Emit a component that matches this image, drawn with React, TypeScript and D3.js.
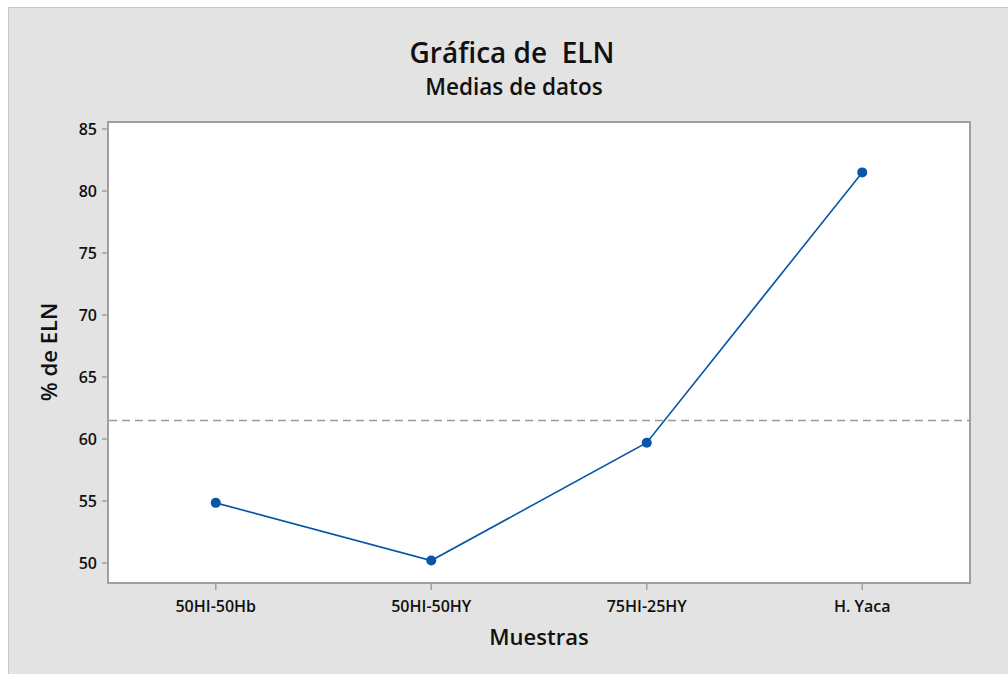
import React from 'react';
import * as d3 from 'd3';

const muestras = ['50HI-50Hb', '50HI-50HY', '75HI-25HY', 'H. Yaca'];
const medias = [54.85, 50.2, 59.7, 81.5];
const yTicks = [50, 55, 60, 65, 70, 75, 80, 85];
const mediaGeneral = 61.5;

const W = 1008;
const H = 674;
const plot = { left: 108, right: 970, top: 122, bottom: 583 };
const font = '"Open Sans", "Noto Sans", sans-serif';
const azul = '#0756a8';

export default function App() {
  const x = d3.scalePoint<string>().domain(muestras).range([plot.left, plot.right]).padding(0.5);
  const y = d3.scaleLinear().domain([50, 85]).range([563, 129]);

  const line = d3
    .line<number>()
    .x((d, i) => x(muestras[i]) as number)
    .y(d => y(d));

  return (
    <svg width={W} height={H} style={{ position: 'absolute', left: 0, top: 0 }} fontFamily={font}>
      <rect x={0} y={0} width={W} height={H} fill="#fff" />
      <rect x={8.5} y={7.5} width={W} height={H} fill="#e3e3e3" stroke="#c8c8c8" />

      <text x={512} y={63} textAnchor="middle" fontSize={28} fontWeight={600} fill="#111">
        Gráfica de{'\u00a0\u00a0'}ELN
      </text>
      <text x={514} y={95} textAnchor="middle" fontSize={22.5} fontWeight={600} fill="#111">
        Medias de datos
      </text>

      <rect
        x={plot.left}
        y={plot.top}
        width={plot.right - plot.left}
        height={plot.bottom - plot.top}
        fill="#fff"
        stroke="#a0a0a0"
        strokeWidth={2}
      />

      {yTicks.map(t => (
        <g key={t}>
          <line x1={plot.left - 6} x2={plot.left} y1={y(t)} y2={y(t)} stroke="#a0a0a0" strokeWidth={1.5} />
          <text x={plot.left - 11} y={y(t)} dy="0.36em" textAnchor="end" fontSize={16} fontWeight={600} fill="#111">
            {t}
          </text>
        </g>
      ))}

      {muestras.map(m => (
        <g key={m}>
          <line x1={x(m)} x2={x(m)} y1={plot.bottom} y2={plot.bottom + 7} stroke="#a0a0a0" strokeWidth={1.5} />
          <text x={x(m)} y={plot.bottom + 29} textAnchor="middle" fontSize={16} fontWeight={600} fill="#111">
            {m}
          </text>
        </g>
      ))}

      <line
        x1={plot.left + 1}
        x2={plot.right - 1}
        y1={y(mediaGeneral)}
        y2={y(mediaGeneral)}
        stroke="#9a9a9a"
        strokeWidth={1.5}
        strokeDasharray="8,5"
      />

      <path d={line(medias) || ''} fill="none" stroke={azul} strokeWidth={1.6} />
      {medias.map((d, i) => (
        <circle key={i} cx={x(muestras[i])} cy={y(d)} r={5} fill={azul} />
      ))}

      <text
        transform={`translate(57,352) rotate(-90)`}
        textAnchor="middle"
        fontSize={22}
        fontWeight={600}
        fill="#111"
      >
        % de ELN
      </text>
      <text x={539} y={645} textAnchor="middle" fontSize={22} fontWeight={600} fill="#111">
        Muestras
      </text>
    </svg>
  );
}
